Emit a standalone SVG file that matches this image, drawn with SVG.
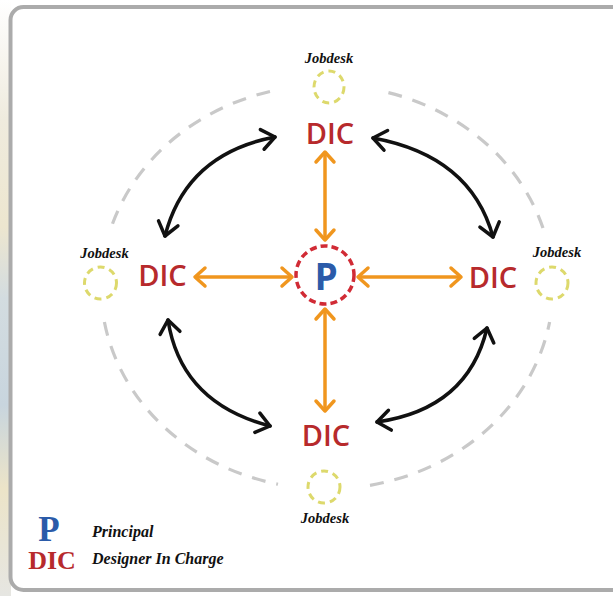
<svg xmlns="http://www.w3.org/2000/svg" width="613" height="596" viewBox="0 0 613 596">
  <style>
    .ring { fill: none; stroke: #c9c9c9; stroke-width: 3.2; stroke-dasharray: 14 11; }
    .jd-circle { fill: none; stroke: #ddd96c; stroke-width: 3; stroke-dasharray: 7 5; }
    .jd-label { font-family: "Liberation Serif", "Times New Roman", serif; font-weight: bold; font-style: italic; font-size: 14.5px; fill: #111; text-anchor: middle; }
    .dic { font-family: "Open Sans", "Liberation Sans", sans-serif; font-weight: 600; font-size: 29px; fill: #b72a2c; text-anchor: middle; }
    .orange { fill: none; stroke: #f0961e; stroke-width: 3.5; marker-start: url(#ah-orange); marker-end: url(#ah-orange); }
    .black { fill: none; stroke: #111; stroke-width: 3.5; stroke-linecap: round; marker-start: url(#ah-black); marker-end: url(#ah-black); }
    .legend-key { font-family: "Liberation Serif", "Times New Roman", serif; font-weight: bold; }
    .legend-text { font-family: "Liberation Serif", "Times New Roman", serif; font-weight: bold; font-style: italic; font-size: 16px; fill: #111; }
  </style>
  <defs>
    <linearGradient id="edge" x1="0" y1="0" x2="0" y2="1">
      <stop offset="0" stop-color="#ffffff"/>
      <stop offset="0.2" stop-color="#efebde"/>
      <stop offset="0.38" stop-color="#ede6cf"/>
      <stop offset="0.5" stop-color="#d3dce0"/>
      <stop offset="0.68" stop-color="#c8d5de"/>
      <stop offset="0.82" stop-color="#ece4c8"/>
      <stop offset="1" stop-color="#e6e6e2"/>
    </linearGradient>
    <marker id="ah-orange" markerUnits="userSpaceOnUse" orient="auto-start-reverse" markerWidth="1" markerHeight="1" overflow="visible">
      <path d="M-10,-9 L0,0 L-10,9" fill="none" stroke="#f0961e" stroke-width="3.5" stroke-linecap="round" stroke-linejoin="round"/>
    </marker>
    <marker id="ah-black" markerUnits="userSpaceOnUse" orient="auto-start-reverse" markerWidth="1" markerHeight="1" overflow="visible">
      <path d="M-13,-10 L0,0 L-13,10" fill="none" stroke="#111" stroke-width="3.5" stroke-linecap="round" stroke-linejoin="round"/>
    </marker>
  </defs>

  <!-- page background and frame -->
  <rect x="0" y="0" width="613" height="596" fill="#ffffff"/>
  <rect x="0" y="0" width="11" height="596" fill="url(#edge)"/>
  <rect x="10.5" y="7" width="630" height="583" rx="13" fill="#ffffff" stroke="#ababab" stroke-width="4"/>

  <!-- outer dashed orbit, broken at the jobdesk positions -->
  <g id="orbit">
    <path class="ring" d="M270,91.5 A226,202 0 0 0 111,228"/>
    <path class="ring" d="M104.4,322 A226,202 0 0 0 278,484.2"/>
    <path class="ring" d="M370,485.3 A226,202 0 0 0 549.6,322"/>
    <path class="ring" d="M543,228 A226,202 0 0 0 384,91.5"/>
  </g>

  <!-- connectors -->
  <g id="connectors">
    <line class="orange" x1="195" y1="277" x2="292" y2="277"/>
    <line class="orange" x1="358" y1="277" x2="461" y2="277"/>
    <line class="orange" x1="325" y1="152" x2="325" y2="240"/>
    <line class="orange" x1="325" y1="309" x2="325" y2="411"/>
    <path class="black" d="M275,137 Q186,154 165,236"/>
    <path class="black" d="M373,138 Q471,156 493,237"/>
    <path class="black" d="M168,320 Q181,403 270,426"/>
    <path class="black" d="M487,328 Q468,409 377,422"/>
  </g>

  <!-- principal -->
  <g id="principal">
    <circle cx="325" cy="275" r="29" fill="none" stroke="#d12b35" stroke-width="3.5" stroke-dasharray="7 4"/>
    <text x="326" y="290" font-family="'Open Sans', 'Liberation Sans', sans-serif" font-weight="bold" font-size="37" fill="#2b5ba9" text-anchor="middle">P</text>
  </g>

  <!-- designers in charge -->
  <g id="dic-top"><text class="dic" x="330" y="144">DIC</text></g>
  <g id="dic-left"><text class="dic" x="162.5" y="286">DIC</text></g>
  <g id="dic-right"><text class="dic" x="493" y="288">DIC</text></g>
  <g id="dic-bottom"><text class="dic" x="326" y="446">DIC</text></g>

  <!-- jobdesks -->
  <g id="jobdesk-top">
    <text class="jd-label" x="329" y="63">Jobdesk</text>
    <ellipse class="jd-circle" cx="329" cy="87" rx="15" ry="16"/>
  </g>
  <g id="jobdesk-left">
    <text class="jd-label" x="104.5" y="258">Jobdesk</text>
    <circle class="jd-circle" cx="100.5" cy="283" r="16"/>
  </g>
  <g id="jobdesk-right">
    <text class="jd-label" x="557" y="257">Jobdesk</text>
    <circle class="jd-circle" cx="552" cy="283" r="16"/>
  </g>
  <g id="jobdesk-bottom">
    <circle class="jd-circle" cx="324" cy="487" r="16"/>
    <text class="jd-label" x="325" y="523">Jobdesk</text>
  </g>

  <!-- legend -->
  <g id="legend">
    <text class="legend-key" x="49" y="541" font-size="35" fill="#2b5ba9" text-anchor="middle">P</text>
    <text class="legend-key" x="52" y="569" font-size="26" fill="#b72a2c" text-anchor="middle">DIC</text>
    <text class="legend-text" x="92" y="537">Principal</text>
    <text class="legend-text" x="92" y="564">Designer In Charge</text>
  </g>
</svg>
